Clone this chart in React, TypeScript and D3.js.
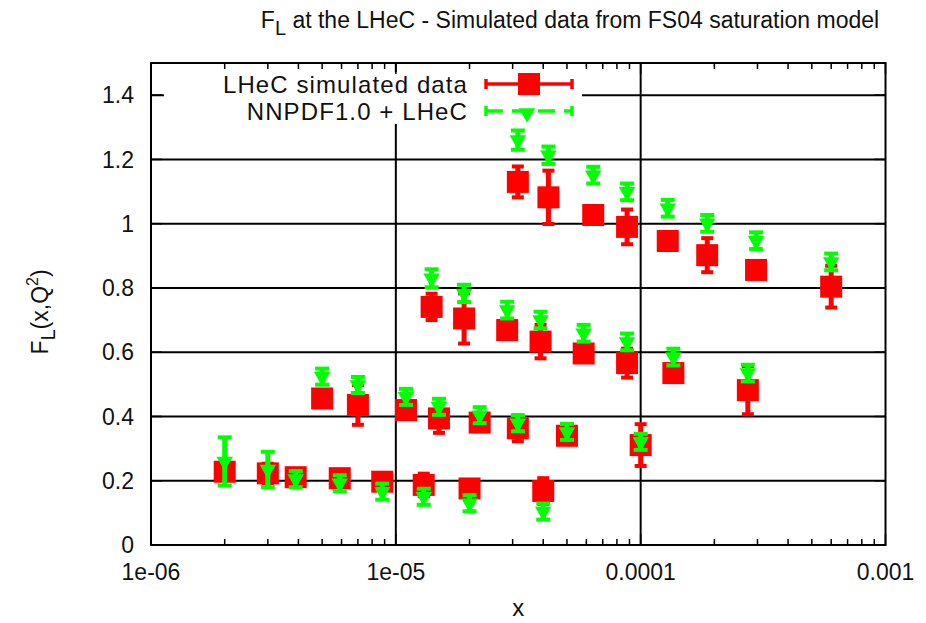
import React from 'react';
import * as d3 from 'd3';

// ---- data ----
const X_TICKS = [1e-6, 1e-5, 1e-4, 1e-3];
const X_TICK_LABELS = ['1e-06', '1e-05', '0.0001', '0.001'];
const Y_TICKS = [0, 0.2, 0.4, 0.6, 0.8, 1.0, 1.2, 1.4];
const Y_TICK_LABELS = ['0', '0.2', '0.4', '0.6', '0.8', '1', '1.2', '1.4'];

const SERIES_NAMES = ['LHeC simulated data', 'NNPDF1.0 + LHeC'];

// group 1 (highest F_L)
const x1 = [3.15e-5, 4.2e-5, 6.4e-5, 8.8e-5, 1.29e-4, 1.87e-4, 2.96e-4, 6.0e-4];
const lhec1 = [1.13, 1.082, 1.027, 0.99, 0.946, 0.902, 0.856, 0.804];
const lhecErr1 = [0.048, 0.083, 0.02, 0.054, 0.02, 0.053, 0.02, 0.065];
const nnpdf1 = [1.26, 1.213, 1.151, 1.099, 1.048, 1.001, 0.947, 0.881];
const nnpdfErr1 = [0.03, 0.027, 0.026, 0.026, 0.026, 0.026, 0.026, 0.026];

// group 2
const x2 = [1.4e-5, 1.9e-5, 2.85e-5, 3.9e-5, 5.85e-5, 8.8e-5, 1.36e-4, 2.74e-4];
const lhec2 = [0.741, 0.705, 0.669, 0.633, 0.596, 0.566, 0.535, 0.482];
const lhecErr2 = [0.041, 0.078, 0.02, 0.052, 0.02, 0.045, 0.02, 0.075];
const nnpdf2 = [0.83, 0.783, 0.731, 0.7, 0.659, 0.632, 0.585, 0.535];
const nnpdfErr2 = [0.028, 0.027, 0.026, 0.026, 0.026, 0.026, 0.026, 0.026];

// group 3
const x3 = [5e-6, 7e-6, 1.1e-5, 1.5e-5, 2.2e-5, 3.15e-5, 5e-5, 1.0e-4];
const lhec3 = [0.456, 0.436, 0.42, 0.394, 0.381, 0.363, 0.34, 0.311];
const lhecErr3 = [0.02, 0.062, 0.02, 0.045, 0.02, 0.04, 0.02, 0.065];
const nnpdf3 = [0.524, 0.498, 0.461, 0.43, 0.404, 0.379, 0.352, 0.321];
const nnpdfErr3 = [0.025, 0.025, 0.025, 0.025, 0.025, 0.025, 0.025, 0.025];

// group 4 (lowest F_L)
const x4 = [2e-6, 3e-6, 3.9e-6, 5.9e-6, 8.8e-6, 1.3e-5, 2e-5, 4e-5];
const lhec4 = [0.228, 0.223, 0.211, 0.208, 0.197, 0.187, 0.176, 0.168];
const lhecErr4 = [0.02, 0.03, 0.02, 0.02, 0.02, 0.035, 0.02, 0.04];
const nnpdf4 = [0.26, 0.235, 0.205, 0.192, 0.166, 0.15, 0.13, 0.104];
const nnpdfErr4 = [0.075, 0.055, 0.025, 0.025, 0.025, 0.025, 0.025, 0.025];

const GROUPS = [
  { x: x1, lhec: lhec1, lhecErr: lhecErr1, nnpdf: nnpdf1, nnpdfErr: nnpdfErr1 },
  { x: x2, lhec: lhec2, lhecErr: lhecErr2, nnpdf: nnpdf2, nnpdfErr: nnpdfErr2 },
  { x: x3, lhec: lhec3, lhecErr: lhecErr3, nnpdf: nnpdf3, nnpdfErr: nnpdfErr3 },
  { x: x4, lhec: lhec4, lhecErr: lhecErr4, nnpdf: nnpdf4, nnpdfErr: nnpdfErr4 },
];

// ---- layout ----
const W = 926;
const H = 623;
const L = 151;
const R = 885.5;
const T = 63;
const B = 545;
const FONT = '"Liberation Sans", Arial, Helvetica, sans-serif';
const RED = '#ff0000';
const GREEN = '#00ff00';

export default function App() {
  const x = d3.scaleLog().domain([1e-6, 1e-3]).range([L, R]);
  const y = d3.scaleLinear().domain([0, 1.5]).range([B, T]);

  const minor = x.ticks().filter((t) => !X_TICKS.some((m) => Math.abs(m - t) / m < 1e-6));

  const square = d3.symbol().type(d3.symbolSquare).size(22 * 22)();
  const tri = d3.symbol().type(d3.symbolTriangle).size(118)();

  const lhecPts: { x: number; y: number; e: number }[] = [];
  const nnpdfPts: { x: number; y: number; e: number }[] = [];
  GROUPS.forEach((g) => {
    g.x.forEach((xv, i) => {
      lhecPts.push({ x: xv, y: g.lhec[i], e: g.lhecErr[i] });
      nnpdfPts.push({ x: xv, y: g.nnpdf[i], e: g.nnpdfErr[i] });
    });
  });

  const legendY = [84, 111];
  const legendTextX = 468;
  const lx0 = 486;
  const lx1 = 572;
  const lxm = (lx0 + lx1) / 2;

  return (
    <svg width={W} height={H} style={{ position: 'absolute', left: 0, top: 0, background: '#fff' }} fontFamily={FONT}>
      <rect x={0} y={0} width={W} height={H} fill="#fff" />
      {/* grid */}
      <g stroke="#000" strokeWidth={2}>
        {Y_TICKS.filter((t) => t > 0).map((t) => (
          <line key={'gy' + t} x1={L} x2={R} y1={y(t)} y2={y(t)} />
        ))}
        {X_TICKS.filter((t, i) => i > 0 && i < X_TICKS.length - 1).map((t) => (
          <line key={'gx' + t} x1={x(t)} x2={x(t)} y1={T} y2={B} />
        ))}
      </g>
      {/* opaque key */}
      <rect x={164} y={72} width={418} height={52} fill="#fff" />
      {/* ticks */}
      <g stroke="#000" strokeWidth={1.5}>
        {Y_TICKS.map((t) => (
          <g key={'ty' + t}>
            <line x1={L} x2={L + 11} y1={y(t)} y2={y(t)} />
            <line x1={R} x2={R - 11} y1={y(t)} y2={y(t)} />
          </g>
        ))}
        {X_TICKS.map((t) => (
          <g key={'tx' + t}>
            <line x1={x(t)} x2={x(t)} y1={B} y2={B - 11} />
            <line x1={x(t)} x2={x(t)} y1={T} y2={T + 11} />
          </g>
        ))}
        {minor.map((t) => (
          <g key={'tm' + t}>
            <line x1={x(t)} x2={x(t)} y1={B} y2={B - 6} />
            <line x1={x(t)} x2={x(t)} y1={T} y2={T + 6} />
          </g>
        ))}
      </g>
      {/* frame */}
      <rect x={L} y={T} width={R - L} height={B - T} fill="none" stroke="#000" strokeWidth={2} />

      {/* tick labels */}
      <g fontSize={23} fill="#111">
        {Y_TICKS.map((t, i) => (
          <text key={'ly' + t} x={134} y={y(t)} dy="0.36em" textAnchor="end">
            {Y_TICK_LABELS[i]}
          </text>
        ))}
        {X_TICKS.map((t, i) => (
          <text key={'lx' + t} x={x(t)} y={572} dy="0.36em" textAnchor="middle">
            {X_TICK_LABELS[i]}
          </text>
        ))}
      </g>

      {/* LHeC simulated data */}
      <g>
        {lhecPts.map((p, i) => {
          const cx = x(p.x);
          const y0 = y(p.y - p.e);
          const y1 = y(p.y + p.e);
          return (
            <g key={'r' + i}>
              <g stroke={RED} strokeWidth={5}>
                <line x1={cx} x2={cx} y1={y0} y2={y1} />
                <line x1={cx - 6} x2={cx + 6} y1={y0} y2={y0} strokeWidth={4} />
                <line x1={cx - 6} x2={cx + 6} y1={y1} y2={y1} strokeWidth={4} />
              </g>
              <path d={square} transform={`translate(${cx},${y(p.y)})`} fill={RED} />
            </g>
          );
        })}
      </g>
      {/* NNPDF1.0 + LHeC */}
      <g>
        {nnpdfPts.map((p, i) => {
          const cx = x(p.x);
          const y0 = y(p.y - p.e);
          const y1 = y(p.y + p.e);
          return (
            <g key={'g' + i}>
              <g stroke={GREEN} strokeWidth={5}>
                <line x1={cx} x2={cx} y1={y0} y2={y1} />
                <line x1={cx - 7} x2={cx + 7} y1={y0} y2={y0} strokeWidth={4} />
                <line x1={cx - 7} x2={cx + 7} y1={y1} y2={y1} strokeWidth={4} />
              </g>
              <path d={tri} transform={`translate(${cx},${y(p.y)}) rotate(180)`} fill={GREEN} />
            </g>
          );
        })}
      </g>

      {/* legend */}
      <g fontSize={24} fill="#111" letterSpacing={1.1}>
        <text x={legendTextX} y={legendY[0]} dy="0.36em" textAnchor="end">{SERIES_NAMES[0]}</text>
        <text x={legendTextX} y={legendY[1]} dy="0.36em" textAnchor="end">{SERIES_NAMES[1]}</text>
      </g>
      <g stroke={RED} strokeWidth={3.5}>
        <line x1={lx0} x2={lx1} y1={legendY[0]} y2={legendY[0]} />
        <line x1={lx0} x2={lx0} y1={legendY[0] - 5} y2={legendY[0] + 5} />
        <line x1={lx1} x2={lx1} y1={legendY[0] - 5} y2={legendY[0] + 5} />
      </g>
      <path d={square} transform={`translate(${lxm},${legendY[0]})`} fill={RED} />
      <g stroke={GREEN} strokeWidth={3.5}>
        <line x1={lx0} x2={lx1} y1={legendY[1]} y2={legendY[1]} strokeDasharray="17 9" />
        <line x1={lx0} x2={lx0} y1={legendY[1] - 5} y2={legendY[1] + 5} />
        <line x1={lx1} x2={lx1} y1={legendY[1] - 5} y2={legendY[1] + 5} />
      </g>
      <path d={tri} transform={`translate(${lxm - 2},${legendY[1] + 2}) rotate(180)`} fill={GREEN} />

      {/* title */}
      <text x={570} y={28} textAnchor="middle" fontSize={23} fill="#111">
        F<tspan fontSize={20} dy={7}>L</tspan>
        <tspan dy={-7}> at the LHeC - Simulated data from FS04 saturation model</tspan>
      </text>
      {/* axis labels */}
      <text x={(L + R) / 2} y={607} dy="0.36em" textAnchor="middle" fontSize={24} fill="#111">x</text>
      <text transform={`translate(48,312) rotate(-90)`} textAnchor="middle" fontSize={23} fill="#111">
        F<tspan fontSize={20} dy={7}>L</tspan>
        <tspan dy={-7}>(x,Q</tspan>
        <tspan fontSize={16} dy={-10}>2</tspan>
        <tspan dy={10}>)</tspan>
      </text>
    </svg>
  );
}
